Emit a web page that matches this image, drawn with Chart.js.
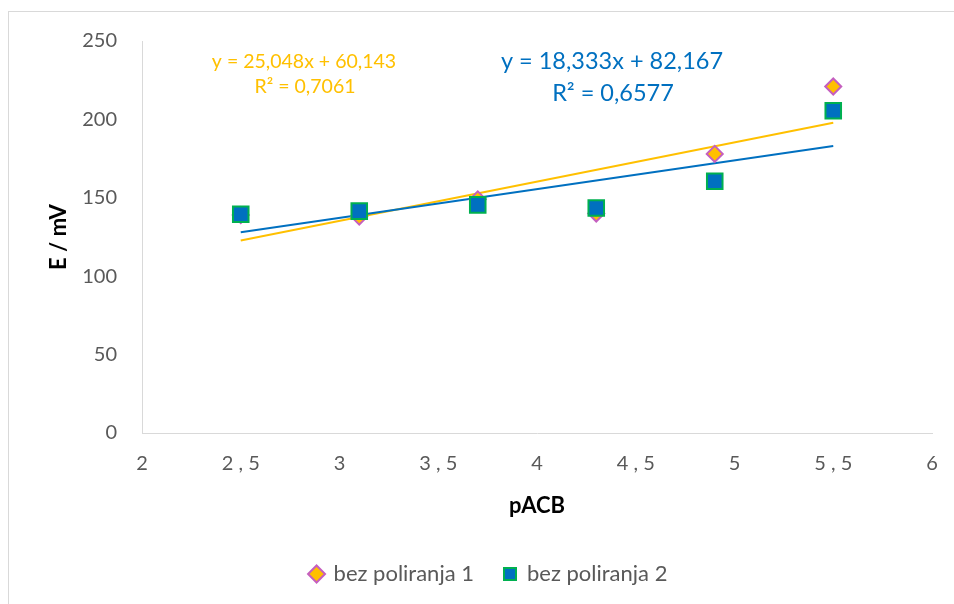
<!DOCTYPE html>
<html>
<head>
<meta charset="utf-8">
<script src="https://cdn.jsdelivr.net/npm/chart.js@4.4.1/dist/chart.umd.min.js"></script>
<style>
    html, body { margin: 0; padding: 0; background: #fff; }
    #wrap { position: relative; width: 954px; height: 604px; }
    #frame { position: absolute; left: 8px; top: 11px; width: 960px; height: 610px;
             border-left: 1px solid #d9d9d9; border-top: 1px solid #d9d9d9; }
    canvas { position: absolute; left: 0; top: 0; }
</style>
</head>
<body>
<div id="wrap">
    <div id="frame"></div>
    <canvas id="chart" width="954" height="604"></canvas>
</div>
<script>
// pACB values
var gPACB = [2.5, 3.1, 3.7, 4.3, 4.9, 5.5];
// E / mV
var gSeries1 = [139, 138, 149, 140, 178, 221];
var gSeries2 = [139.5, 141.5, 145.5, 143.5, 160.5, 205.5];
// trendline end points (x = 2,5 and x = 5,5)
var gTrendX = [2.5, 5.5];
var gTrend1 = [122.8, 197.9];
var gTrend2 = [128.0, 183.0];
var gXTicks = [2, 2.5, 3, 3.5, 4, 4.5, 5, 5.5, 6];
var gYTicks = [0, 50, 100, 150, 200, 250];

var gFont = "Lato, 'Open Sans', sans-serif";

function toPoints(pX, pY) {
    var vPoints = [];
    for (var i = 0; i < pX.length; i++) {
        vPoints.push({ x: pX[i], y: pY[i] });
    }
    return vPoints;
}

//draw the trendline equations
var equationPlugin = {
    id: 'equations',
    afterDraw: function (chart) {
        var ctx = chart.ctx;
        ctx.save();
        ctx.textAlign = 'center';
        ctx.textBaseline = 'middle';
        ctx.fillStyle = '#FFC000';
        ctx.font = '19.5px ' + gFont;
        ctx.fillText('y = 25,048x + 60,143', 304, 62);
        ctx.fillText('R² = 0,7061', 305, 87);
        ctx.fillStyle = '#0070C0';
        ctx.font = '23.5px ' + gFont;
        ctx.fillText('y = 18,333x + 82,167', 612, 61);
        ctx.fillText('R² = 0,6577', 613, 93);
        ctx.restore();
    }
};

var vCtx = document.getElementById('chart').getContext('2d');
new Chart(vCtx, {
    type: 'scatter',
    data: {
        datasets: [
            {
                label: 'trend1',
                type: 'line',
                data: toPoints(gTrendX, gTrend1),
                borderColor: '#FFC000',
                borderWidth: 2,
                pointRadius: 0,
                fill: false,
                order: 3
            },
            {
                label: 'trend2',
                type: 'line',
                data: toPoints(gTrendX, gTrend2),
                borderColor: '#0070C0',
                borderWidth: 2,
                pointRadius: 0,
                fill: false,
                order: 2
            },
            {
                label: 'bez poliranja 1',
                data: toPoints(gPACB, gSeries1),
                pointStyle: 'rectRot',
                pointRadius: 8,
                pointHoverRadius: 8,
                backgroundColor: '#FFC000',
                borderColor: '#C55FBF',
                borderWidth: 2,
                order: 1
            },
            {
                label: 'bez poliranja 2',
                data: toPoints(gPACB, gSeries2),
                pointStyle: 'rect',
                pointRadius: 11,
                pointHoverRadius: 11,
                backgroundColor: '#0070C0',
                borderColor: '#00B050',
                borderWidth: 2,
                order: 0
            }
        ]
    },
    options: {
        responsive: false,
        animation: false,
        layout: { padding: { left: 46, top: 41, right: 22, bottom: 9 } },
        plugins: {
            tooltip: { enabled: false },
            legend: {
                position: 'bottom',
                labels: {
                    filter: function (item) { return item.text.indexOf('trend') !== 0; },
                    sort: function (a, b) { return a.datasetIndex - b.datasetIndex; },
                    usePointStyle: true,
                    boxWidth: 12,
                    boxHeight: 12,
                    padding: 30,
                    color: '#595959',
                    font: { family: gFont, size: 22 }
                }
            }
        },
        scales: {
            x: {
                type: 'linear',
                min: 2,
                max: 6,
                afterBuildTicks: function (scale) {
                    scale.ticks = gXTicks.map(function (v) { return { value: v }; });
                },
                afterFit: function (scale) { scale.height = 100; },
                grid: { display: false },
                border: { display: true, color: '#d9d9d9', width: 1 },
                ticks: {
                    padding: 11,
                    color: '#595959',
                    font: { family: gFont, size: 20 },
                    callback: function (v) { return String(v).replace('.', ' , '); }
                },
                title: {
                    display: true,
                    text: 'pACB',
                    color: '#000',
                    padding: { top: 3, bottom: 14 },
                    font: { family: gFont, size: 22, weight: 'bold' }
                }
            },
            y: {
                min: 0,
                max: 250,
                afterBuildTicks: function (scale) {
                    scale.ticks = gYTicks.map(function (v) { return { value: v }; });
                },
                afterFit: function (scale) { scale.width = 96; },
                grid: { display: false },
                border: { display: true, color: '#d9d9d9', width: 1 },
                ticks: {
                    padding: 17,
                    color: '#595959',
                    font: { family: gFont, size: 20 }
                },
                title: {
                    display: true,
                    text: 'E / mV',
                    color: '#000',
                    padding: { top: 0, bottom: 0 },
                    font: { family: gFont, size: 22, weight: 'bold' }
                }
            }
        }
    },
    plugins: [equationPlugin]
});
</script>
</body>
</html>
